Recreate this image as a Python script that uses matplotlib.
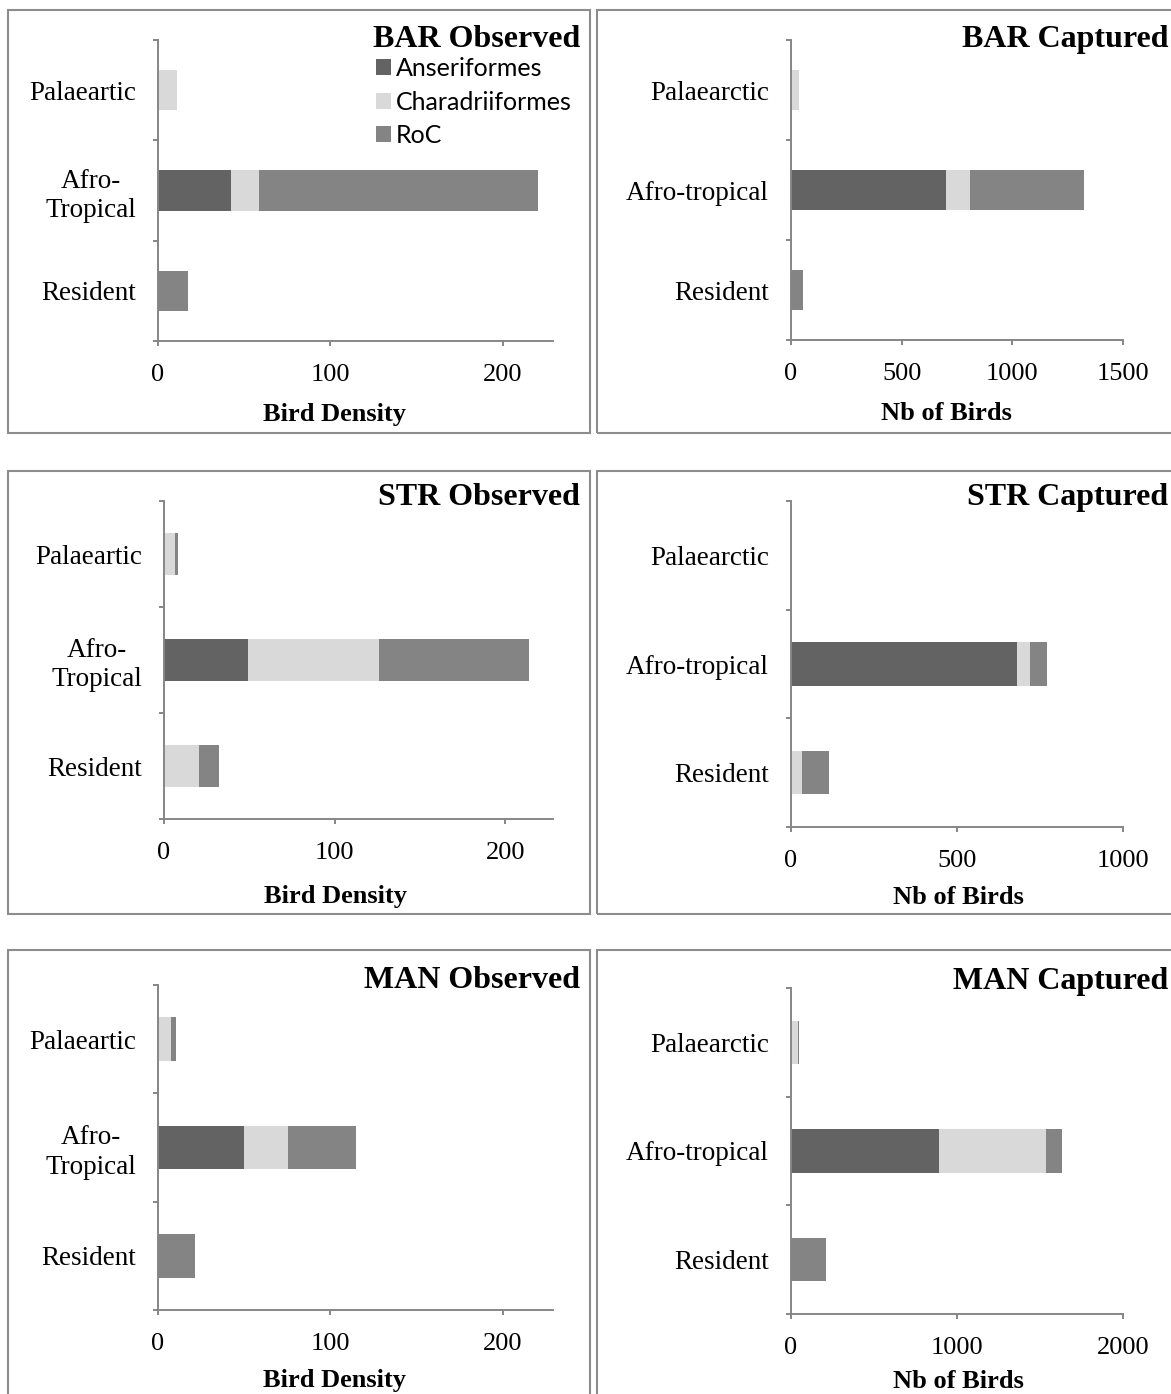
import matplotlib
matplotlib.use("Agg")
import matplotlib.pyplot as plt
from matplotlib.patches import Rectangle

plt.rcParams['font.family'] = ['Liberation Serif', 'DejaVu Serif']

# categories (top to bottom)
obs_cats = ['Palaeartic', 'Afro-\nTropical', 'Resident']
cap_cats = ['Palaearctic', 'Afro-tropical', 'Resident']
groups = ['Anseriformes', 'Charadriiformes', 'RoC']
colors = ['#636363', '#d9d9d9', '#848484']

# BAR
bar_obs_anser = [0, 42.5, 0]
bar_obs_chara = [11, 16, 0]
bar_obs_roc = [0, 162, 17.5]
bar_cap_anser = [0, 700, 0]
bar_cap_chara = [37, 108, 0]
bar_cap_roc = [0, 517, 55]
# STR
str_obs_anser = [0, 49, 0]
str_obs_chara = [6.6, 77, 20.8]
str_obs_roc = [1.6, 88, 11.3]
str_cap_anser = [0, 680, 0]
str_cap_chara = [0, 39, 32]
str_cap_roc = [0, 51, 83]
# MAN
man_obs_anser = [0, 49.7, 0]
man_obs_chara = [7.6, 25.4, 0]
man_obs_roc = [3.1, 39.4, 21.6]
man_cap_anser = [0, 893, 0]
man_cap_chara = [40, 642, 0]
man_cap_roc = [9, 96, 209]

W, H = 1171, 1394
fig = plt.figure(figsize=(W / 100, H / 100), dpi=100)

# panel boxes (pixels): x0, y0, x1, y1
boxes = [(8, 10, 590, 433), (597, 10, 1185, 433),
         (8, 471, 590, 914), (597, 471, 1185, 914),
         (8, 950, 590, 1410), (597, 950, 1185, 1410)]
for x0, y0, x1, y1 in boxes:
    fig.patches.append(Rectangle((x0 / W, 1 - y1 / H), (x1 - x0) / W, (y1 - y0) / H,
                                 transform=fig.transFigure, fill=False,
                                 edgecolor='#8c8c8c', linewidth=1.5))

panels = [
    # title, axes px (x0, y0, x1, y1), cats, data, xmax, ticks, xlabel, label x frac, title px (xr, baseline)
    ('BAR Observed', (158, 40, 553, 341), obs_cats,
     (bar_obs_anser, bar_obs_chara, bar_obs_roc), 229, [0, 100, 200], 'Bird Density', 0.446, (580, 47)),
    ('BAR Captured', (791, 40, 1123, 340), cap_cats,
     (bar_cap_anser, bar_cap_chara, bar_cap_roc), 1500, [0, 500, 1000, 1500], 'Nb of Birds', 0.467, (1168, 47)),
    ('STR Observed', (164, 501, 553, 819), obs_cats,
     (str_obs_anser, str_obs_chara, str_obs_roc), 228, [0, 100, 200], 'Bird Density', 0.44, (580, 505)),
    ('STR Captured', (791, 501, 1123, 827), cap_cats,
     (str_cap_anser, str_cap_chara, str_cap_roc), 1000, [0, 500, 1000], 'Nb of Birds', 0.503, (1168, 505)),
    ('MAN Observed', (158, 985, 553, 1310), obs_cats,
     (man_obs_anser, man_obs_chara, man_obs_roc), 229, [0, 100, 200], 'Bird Density', 0.448, (580, 988)),
    ('MAN Captured', (791, 988, 1123, 1314), cap_cats,
     (man_cap_anser, man_cap_chara, man_cap_roc), 2000, [0, 1000, 2000], 'Nb of Birds', 0.503, (1168, 989)),
]
label_offsets = [74, 73, 77, 70, 71, 68]

spine_c = '#868686'
ypos = [2, 1, 0]
legend_handles = None
for i, (title, (ax0, ay0, ax1, ay1), cats, series, xmax, ticks, xlabel, lx, (tx, ty)) in enumerate(panels):
    ax = fig.add_axes([ax0 / W, 1 - ay1 / H, (ax1 - ax0) / W, (ay1 - ay0) / H])
    left = [0, 0, 0]
    handles = []
    for vals, c, g in zip(series, colors, groups):
        h = ax.barh(ypos, vals, height=0.4, left=left, color=c, label=g)
        handles.append(h)
        left = [a + b for a, b in zip(left, vals)]
    if legend_handles is None:
        legend_handles = handles
    ax.set_xlim(0, xmax)
    ax.set_ylim(-0.5, 2.5)
    ax.set_xticks(ticks)
    ax.set_xticklabels([str(t) for t in ticks], fontsize=19)
    ax.set_yticks(ypos)
    ax.set_yticklabels(cats, fontsize=19.5, linespacing=1.22)
    for lbl in ax.get_yticklabels():
        lbl.set_multialignment('center')
    ax.set_yticks([-0.5, 0.5, 1.5, 2.5], minor=True)
    ax.tick_params(axis='y', which='major', length=0, pad=16)
    ax.tick_params(axis='y', which='minor', length=3.6, width=1.4, color=spine_c, direction='out')
    ax.tick_params(axis='x', length=3.6, width=1.4, color=spine_c, direction='out', pad=13)
    for s in ['top', 'right']:
        ax.spines[s].set_visible(False)
    for s in ['left', 'bottom']:
        ax.spines[s].set_color(spine_c)
        ax.spines[s].set_linewidth(1.4)
    ax.set_xlabel(xlabel, fontsize=19, fontweight='bold', va='center')
    ax.xaxis.set_label_coords(lx, -label_offsets[i] / (ay1 - ay0))
    fig.text(tx / W, 1 - ty / H, title, ha='right', va='baseline',
             fontsize=23, fontweight='bold')

fig.legend(legend_handles, groups, loc='upper left',
           bbox_to_anchor=(376 / W, 1 - 57 / H), bbox_transform=fig.transFigure,
           frameon=False, prop={'family': 'Lato', 'size': 18},
           handlelength=0.6, handleheight=0.6, handletextpad=0.2,
           labelspacing=0.42, borderpad=0, borderaxespad=0)

fig.savefig('out.png', dpi=100)
